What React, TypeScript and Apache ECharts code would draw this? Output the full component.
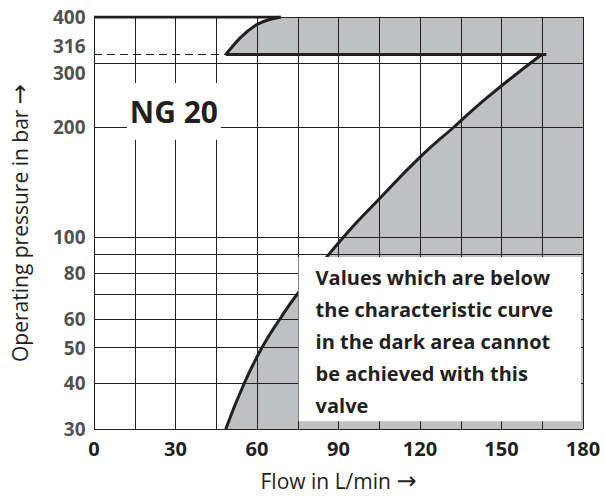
import React, { useEffect, useRef } from 'react';
import * as echarts from 'echarts';

// ---- data ----
const xGridValues = [0, 15, 30, 45, 60, 75, 90, 105, 120, 135, 150, 165, 180];
const xLabelValues = [0, 30, 60, 90, 120, 150, 180];
const yGridValues = [30, 40, 50, 60, 70, 80, 90, 100, 200, 300, 400];
const yLabelValues = [30, 40, 50, 60, 80, 100, 200, 300, 316, 400];
const lowerCurveFlow = [48.5, 55.3, 61.8, 68.5, 74.8, 91.7, 104.8, 120.1, 132.4, 145.0, 164.8];
const lowerCurvePressure = [30, 40, 50, 60, 70, 100, 127, 166, 200, 242, 316];
const upperCurveFlow = [48.5, 54, 59.5, 63.8, 68.7];
const upperCurvePressure = [316, 352, 380, 392, 400];
const limitPressure = 316;
const limitLineEndFlow = 166.5;
const minPressure = 30;
const maxPressure = 400;
const minFlow = 0;
const maxFlow = 180;
const noteLines = [
  'Values which are below',
  'the characteristic curve',
  'in the dark area cannot',
  'be achieved with this',
  'valve',
];
const sizeLabel = 'NG 20';
const xTitleText = 'Flow in L/min';
const yTitleText = 'Operating pressure in bar';
const arrow = '\u2192';

// ---- layout / style ----
const INK = '#231f20';
const GRAY = '#bfc0c2';
const FONT = '"Open Sans", "Noto Sans", sans-serif';
const noteBox = { x0: 75.3, x1: 179.3, p0: 31.5, p1: 88.4 };
const sizeBox = { x0: 12.1, x1: 46.7, p0: 185, p1: 264 };

const lowerPts = lowerCurveFlow.map((x, i) => [x, lowerCurvePressure[i]]);
const upperPts = upperCurveFlow.map((x, i) => [x, upperCurvePressure[i]]);

export default function App() {
  const ref = useRef<HTMLDivElement>(null);
  useEffect(() => {
    if (!ref.current) return;
    const chart = echarts.init(ref.current, null, { renderer: 'svg' });
    const titleStyle = {
      fontFamily: FONT,
      fontSize: 21,
      color: INK,
      rich: {
        arr: { fontFamily: '"DejaVu Sans", sans-serif', fontSize: 24, color: INK },
      },
    };
    const option: any = {
      animation: false,
      grid: { left: 93, right: 22, top: 17, bottom: 66, containLabel: false },
      xAxis: {
        type: 'value',
        min: minFlow,
        max: maxFlow,
        interval: 15,
        name: `${xTitleText} {arr|${arrow}}`,
        nameLocation: 'middle',
        nameGap: 40,
        nameTextStyle: titleStyle,
        axisLine: { show: false },
        axisTick: { show: false },
        splitLine: { show: false },
        axisLabel: {
          margin: 9,
          fontFamily: FONT,
          fontSize: 20,
          fontWeight: 'bold',
          color: INK,
          formatter: (v: number) => (xLabelValues.includes(v) ? String(v) : ''),
        },
      },
      yAxis: {
        type: 'log',
        logBase: 10,
        min: minPressure,
        max: maxPressure,
        name: `${yTitleText} {arr|${arrow}}`,
        nameLocation: 'middle',
        nameGap: 62,
        nameTextStyle: titleStyle,
        axisLine: { show: false },
        axisTick: { show: false },
        splitLine: { show: false },
        axisLabel: { show: false },
      },
      series: [
        {
          type: 'custom',
          z: 1,
          silent: true,
          data: [[maxFlow, minPressure]],
          renderItem: (_params: any, api: any) => {
            const pts: number[][] = [];
            lowerPts.forEach((p) => pts.push(api.coord(p)));
            pts.push(api.coord([upperPts[0][0], limitPressure]));
            upperPts.forEach((p) => pts.push(api.coord(p)));
            pts.push(api.coord([maxFlow, maxPressure]));
            pts.push(api.coord([maxFlow, minPressure]));
            return {
              type: 'polygon',
              shape: { points: pts },
              style: { fill: GRAY },
              silent: true,
            };
          },
        },
        {
          type: 'line',
          z: 2,
          silent: true,
          data: [[minFlow, minPressure]],
          symbol: 'none',
          lineStyle: { opacity: 0 },
          markLine: {
            z: 2,
            silent: true,
            symbol: ['none', 'none'],
            label: { show: false },
            emphasis: { disabled: true },
            lineStyle: { color: INK, width: 1, type: 'solid' },
            data: [
              ...xGridValues.map((v) => ({ xAxis: v })),
              ...yGridValues.map((v) => ({ yAxis: v })),
            ],
          },
        },
        {
          type: 'line',
          z: 3,
          silent: true,
          symbol: 'none',
          data: [[minFlow, limitPressure], [upperCurveFlow[0], limitPressure]],
          lineStyle: { color: INK, width: 1, type: [8, 5] },
        },
        {
          type: 'line',
          z: 3,
          silent: true,
          symbol: 'none',
          smooth: 0.5,
          data: lowerPts,
          lineStyle: { color: INK, width: 3 },
        },
        {
          type: 'line',
          z: 3,
          silent: true,
          symbol: 'none',
          smooth: 0.3,
          data: upperPts,
          lineStyle: { color: INK, width: 3 },
        },
        {
          type: 'line',
          z: 3,
          silent: true,
          symbol: 'none',
          data: [[minFlow, maxPressure], [upperCurveFlow[upperCurveFlow.length - 1], maxPressure]],
          lineStyle: { color: INK, width: 3 },
        },
        {
          type: 'line',
          z: 3,
          silent: true,
          symbol: 'none',
          data: [[upperCurveFlow[0], limitPressure], [limitLineEndFlow, limitPressure]],
          lineStyle: { color: INK, width: 3 },
        },
        {
          type: 'line',
          z: 4,
          silent: true,
          data: [[minFlow, minPressure]],
          symbol: 'none',
          lineStyle: { opacity: 0 },
          markArea: {
            z: 4,
            silent: true,
            itemStyle: { color: '#ffffff' },
            emphasis: { disabled: true },
            data: [
              [
                {
                  xAxis: noteBox.x0,
                  yAxis: noteBox.p1,
                  label: {
                    show: true,
                    position: 'insideTopLeft',
                    distance: 0,
                    padding: [4, 0, 0, 17],
                    formatter: noteLines.join('\n'),
                    fontFamily: FONT,
                    fontSize: 20,
                    fontWeight: 'bold',
                    lineHeight: 32,
                    color: INK,
                  },
                },
                { xAxis: noteBox.x1, yAxis: noteBox.p0 },
              ],
              [
                {
                  xAxis: sizeBox.x0,
                  yAxis: sizeBox.p1,
                  label: {
                    show: true,
                    position: 'inside',
                    formatter: sizeLabel,
                    fontFamily: FONT,
                    fontSize: 30,
                    fontWeight: 'bold',
                    color: INK,
                  },
                },
                { xAxis: sizeBox.x1, yAxis: sizeBox.p0 },
              ],
            ],
          },
        },
        {
          type: 'scatter',
          z: 5,
          silent: true,
          symbolSize: 1,
          itemStyle: { color: 'rgba(0,0,0,0)' },
          data: yLabelValues.map((v) => ({
            value: [minFlow, v],
            label: { offset: v === 316 ? [0, -8] : v === 300 ? [0, 10] : [0, 0] },
          })),
          label: {
            show: true,
            position: 'left',
            distance: 8,
            fontFamily: FONT,
            fontSize: 19,
            lineHeight: 19,
            fontWeight: 'bold',
            color: INK,
            formatter: (p: any) => String(p.value[1]),
          },
        },
      ],
    };
    chart.setOption(option);
    return () => chart.dispose();
  }, []);
  return (
    <div
      ref={ref}
      style={{ position: 'fixed', left: 0, top: 0, width: 605, height: 498, background: '#fff' }}
    />
  );
}
